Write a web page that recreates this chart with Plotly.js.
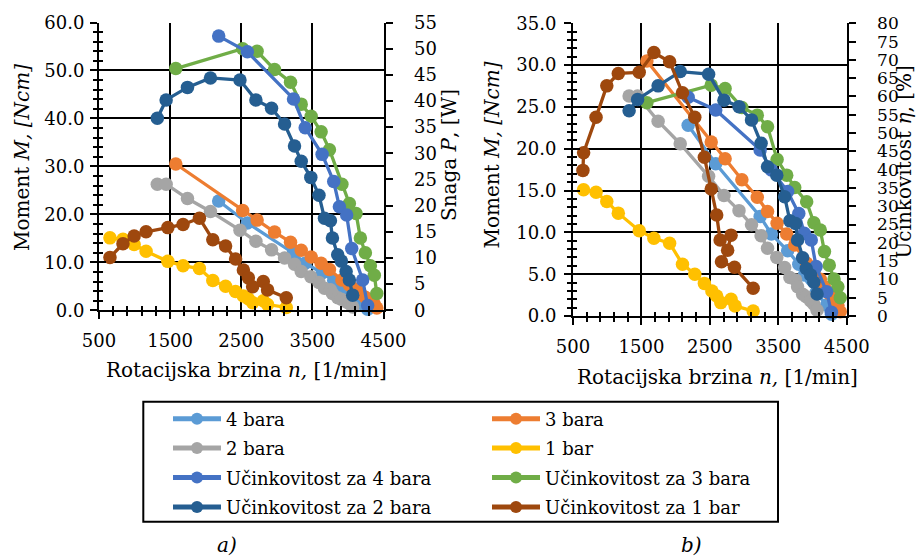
<!DOCTYPE html>
<html><head><meta charset="utf-8">
<script src="https://cdn.plot.ly/plotly-3.0.1.min.js"></script>
<style>html,body{margin:0;padding:0;background:#fff}#chart{width:916px;height:556px}</style>
</head><body><div id="chart"></div>
<script>
// rotational speed n [1/min] per pressure
const n4 = [2183, 2586, 3235, 3399, 3637, 3800, 3880, 3982, 4053, 4207, 4277];
const n3 = [1580, 2520, 2723, 2968, 3193, 3343, 3483, 3623, 3740, 3915, 4020, 4114, 4175, 4245, 4315, 4371, 4406];
const n2 = [1320, 1444, 1744, 2067, 2482, 2706, 2926, 3109, 3249, 3343, 3478, 3593, 3670, 3754, 3782, 3856, 3908, 3974, 4020, 4067];
const n1 = [654, 837, 994, 1162, 1468, 1682, 1912, 2100, 2280, 2420, 2530, 2600, 2660, 2810, 2870, 3133];
// torque M [Ncm]
const M4 = [22.8, 18.2, 11.9, 9.8, 7.8, 6.2, 4.9, 4.4, 2.8, 1.3, 0.2];
const M3 = [30.5, 20.8, 18.8, 16.3, 14.2, 12.5, 11.1, 9.8, 8.5, 6.3, 5.3, 4.4, 3.5, 2.7, 2.0, 1.3, 0.5];
const M2 = [26.3, 26.3, 23.3, 20.6, 16.7, 14.4, 12.6, 10.9, 9.6, 8.1, 7.0, 5.8, 4.6, 4.3, 3.5, 2.6, 2.3, 1.8, 1.4, 0.7];
const M1 = [15.1, 14.8, 13.7, 12.3, 10.2, 9.3, 8.7, 6.2, 5.0, 3.9, 3.0, 2.4, 1.6, 2.0, 1.2, 0.6];
// chart a) right axis, Snaga P [W]
const P4 = [52.4, 49.4, 40.4, 34.9, 29.8, 24.6, 19.8, 18.2, 11.8, 5.8, 0.9];
const P3 = [46.2, 50.0, 49.5, 46.0, 43.6, 39.4, 37.1, 34.1, 30.7, 24.1, 20.4, 18.5, 13.8, 11.0, 8.5, 6.7, 3.2];
const P2 = [36.7, 40.2, 42.6, 44.4, 44.0, 40.2, 38.6, 35.6, 31.4, 28.5, 25.4, 22.0, 17.6, 17.1, 13.8, 10.6, 9.4, 7.4, 5.8, 2.9];
const P1 = [10.1, 12.7, 14.2, 15.0, 15.8, 16.4, 17.6, 13.5, 12.3, 9.8, 7.7, 6.2, 4.5, 5.5, 3.9, 2.4];
// chart b) right axis, Učinkovitost η [%]
const E4 = [59.8, 56.3, 45.4, 39.9, 34.0, 28.0, 22.6, 20.8, 13.5, 6.6, 1.0];
const E3 = [58.3, 63.1, 62.2, 57.0, 54.9, 51.7, 42.8, 38.5, 35.1, 31.2, 25.5, 23.5, 17.6, 13.9, 10.1, 8.0, 5.0];
const E2 = [56.1, 59.2, 62.9, 66.8, 66.1, 59.0, 57.2, 53.6, 47.2, 40.8, 38.5, 32.6, 26.0, 25.3, 20.8, 15.9, 13.0, 11.2, 9.2, 6.0];
const nE1 = [645, 655, 837, 994, 1162, 1468, 1682, 1912, 2100, 2280, 2420, 2520, 2600, 2650, 2810, 2760, 2670, 2860, 3133];
const E1 = [39.8, 44.6, 54.3, 62.9, 66.3, 66.6, 72.0, 69.5, 61.0, 54.3, 43.4, 34.7, 27.6, 20.8, 22.1, 18.0, 14.8, 13.3, 7.6];

const names = ['4 bara','3 bara','2 bara','1 bar','Učinkovitost za 4 bara','Učinkovitost za 3 bara','Učinkovitost za 2 bara','Učinkovitost za 1 bar'];
const xTitle = 'Rotacijska brzina <i>n,</i> [1/min]';
const yTitleM = 'Moment <i>M, [Ncm]</i>';
const yTitleP = 'Snaga <i>P</i>, [W]';
const yTitleE = 'Učinkovitost <i>η</i>, [%]';

const C = {lb:'#5B9BD5', or:'#ED7D31', gr:'#A5A5A5', ye:'#FFC000', bl:'#4472C4', gn:'#70AD47', db:'#255E91', br:'#9E480E'};
const FONT = 'DejaVu Serif';

function tr(name, x, y, xa, ya, color, legend, group, rank, show) {
  return {type:'scatter', mode:'lines+markers', name:name, x:x, y:y, xaxis:xa, yaxis:ya,
    line:{color:color, width:3.3}, marker:{color:color, size:13.5}, cliponaxis:false,
    legend:legend, legendgroup:group, legendrank:rank, showlegend:show, hoverinfo:'x+y'};
}

const data = [
  tr(names[0], n4, M4, 'x','y', C.lb, 'legend','g1',1,true),
  tr(names[1], n3, M3, 'x','y', C.or, 'legend2','g5',5,true),
  tr(names[2], n2, M2, 'x','y', C.gr, 'legend','g2',2,true),
  tr(names[3], n1, M1, 'x','y', C.ye, 'legend2','g6',6,true),
  tr(names[5], n3, P3, 'x','y2', C.gn, 'legend2','g7',7,true),
  tr(names[4], n4, P4, 'x','y2', C.bl, 'legend','g3',3,true),
  tr(names[6], n2, P2, 'x','y2', C.db, 'legend','g4',4,true),
  tr(names[7], n1, P1, 'x','y2', C.br, 'legend2','g8',8,true),

  tr(names[0], n4, M4, 'x2','y3', C.lb, 'legend','g1',1,false),
  tr(names[1], n3, M3, 'x2','y3', C.or, 'legend2','g5',5,false),
  tr(names[2], n2, M2, 'x2','y3', C.gr, 'legend','g2',2,false),
  tr(names[3], n1, M1, 'x2','y3', C.ye, 'legend2','g6',6,false),
  tr(names[5], n3, E3, 'x2','y4', C.gn, 'legend2','g7',7,false),
  tr(names[4], n4, E4, 'x2','y4', C.bl, 'legend','g3',3,false),
  tr(names[6], n2, E2, 'x2','y4', C.db, 'legend','g4',4,false),
  tr(names[7], nE1, E1, 'x2','y4', C.br, 'legend2','g8',8,false),
  // helper traces for the inner half of the crossing tick marks
  {type:'scatter', x:[], y:[], xaxis:'x', yaxis:'y5', showlegend:false, hoverinfo:'skip'},
  {type:'scatter', x:[], y:[], xaxis:'x3', yaxis:'y', showlegend:false, hoverinfo:'skip'},
  {type:'scatter', x:[], y:[], xaxis:'x2', yaxis:'y6', showlegend:false, hoverinfo:'skip'},
  {type:'scatter', x:[], y:[], xaxis:'x4', yaxis:'y3', showlegend:false, hoverinfo:'skip'}
];

const W = 916, H = 556;
const px = v => v / W, py = v => 1 - v / H;
const tickFont = {family:FONT, size:18, color:'#000'};

function xAxis(dom, anchor, standoff) {
  return {domain:dom, anchor:anchor, range:[500,4500], tick0:500, dtick:1000, ticks:'outside', ticklen:7, tickwidth:2, tickcolor:'#000',
    minor:{tick0:500, dtick:200, ticks:'outside', ticklen:4, tickwidth:1.5, tickcolor:'#000', showgrid:false},
    showline:true, linecolor:'#000', linewidth:2, showgrid:true, gridcolor:'#000', gridwidth:2, zeroline:false,
    tickfont:tickFont, ticklabelstandoff:standoff, fixedrange:true};
}
function xInner(over, anchor) {
  return {overlaying:over, anchor:anchor, range:[500,4500], tick0:500, dtick:1000, ticks:'inside', ticklen:7, tickwidth:2, tickcolor:'#000',
    minor:{tick0:500, dtick:200, ticks:'inside', ticklen:4, tickwidth:1.5, tickcolor:'#000', showgrid:false},
    showline:false, showgrid:false, zeroline:false, showticklabels:false, fixedrange:true};
}
function yLeft(dom, anchor, max, dt, mdt, standoff) {
  return {domain:dom, anchor:anchor, range:[0,max], tick0:0, dtick:dt, tickformat:'.1f', ticks:'outside', ticklen:7, tickwidth:2, tickcolor:'#000',
    minor:{tick0:0, dtick:mdt, ticks:'outside', ticklen:4, tickwidth:1.5, tickcolor:'#000', showgrid:false},
    showline:true, linecolor:'#000', linewidth:2, showgrid:true, gridcolor:'#000', gridwidth:2, zeroline:false,
    tickfont:tickFont, ticklabelstandoff:standoff, fixedrange:true};
}
function yInner(over, anchor, max, dt, mdt) {
  return {overlaying:over, anchor:anchor, side:'left', range:[0,max], tick0:0, dtick:dt, ticks:'inside', ticklen:7, tickwidth:2, tickcolor:'#000',
    minor:{tick0:0, dtick:mdt, ticks:'inside', ticklen:4, tickwidth:1.5, tickcolor:'#000', showgrid:false},
    showline:false, showgrid:false, zeroline:false, showticklabels:false, fixedrange:true};
}
function yRight(over, anchor, max, standoff, fsize) {
  return {overlaying:over, anchor:anchor, side:'right', range:[0,max], tick0:0, dtick:5, ticks:'outside', ticklen:7, tickwidth:2, tickcolor:'#000',
    showline:true, linecolor:'#000', linewidth:2, showgrid:false, zeroline:false,
    tickfont:{family:FONT, size:fsize, color:'#000'}, ticklabelstandoff:standoff, fixedrange:true};
}

function ann(text, x, y, angle, size, italic) {
  return {text:text, x:px(x), y:py(y), xref:'paper', yref:'paper', xanchor:'center', yanchor:'middle', showarrow:false,
    textangle:angle, font:{family:FONT, size:size, color:'#000', style: italic ? 'italic' : 'normal'}};
}

const legendBase = {orientation:'v', xanchor:'left', yanchor:'top', bgcolor:'rgba(0,0,0,0)', borderwidth:0,
  font:{family:FONT, size:18, color:'#000'}, itemwidth:48, tracegroupgap:3, itemsizing:'constant', itemclick:false, itemdoubleclick:false};

const layout = {
  width:W, height:H, margin:{l:0, r:0, t:0, b:0}, paper_bgcolor:'#fff', plot_bgcolor:'#fff', showlegend:true,
  xaxis: xAxis([px(99), px(383.5)], 'y', 6),
  yaxis: yLeft([py(310.3), py(22.5)], 'x', 60, 10, 2, 2),
  yaxis2: yRight('y', 'x', 55, 18, 18),
  xaxis3: xInner('x', 'y'),
  yaxis5: yInner('y', 'x', 60, 10, 2),
  xaxis2: xAxis([px(573), px(846.7)], 'y3', 6),
  yaxis3: yLeft([py(316), py(23.3)], 'x2', 35, 5, 1, 4),
  yaxis4: yRight('y3', 'x2', 80, 18, 17),
  xaxis4: xInner('x2', 'y3'),
  yaxis6: yInner('y3', 'x2', 35, 5, 1),
  legend: Object.assign({}, legendBase, {x:px(168), y:py(400.5)}),
  legend2: Object.assign({}, legendBase, {x:px(487), y:py(400.5)}),
  shapes:[{type:'rect', xref:'paper', yref:'paper', x0:px(143.3), x1:px(778), y0:py(401.7), y1:py(521.7), line:{color:'#000', width:2}}],
  annotations:[
    ann(yTitleM, 22, 158, -90, 20, false),
    ann(yTitleP, 449, 155, -90, 20, false),
    ann(xTitle, 246.5, 370, 0, 20, false),
    ann(yTitleM, 491.5, 155, -90, 20, false),
    ann(yTitleE, 903.5, 162, -90, 20, false),
    ann(xTitle, 717.5, 376.7, 0, 20, false),
    ann('a)', 226.7, 545, 0, 20, true),
    ann('b)', 691, 545, 0, 20, true)
  ]
};

Plotly.newPlot('chart', data, layout, {displayModeBar:false, staticPlot:false});
</script></body></html>
